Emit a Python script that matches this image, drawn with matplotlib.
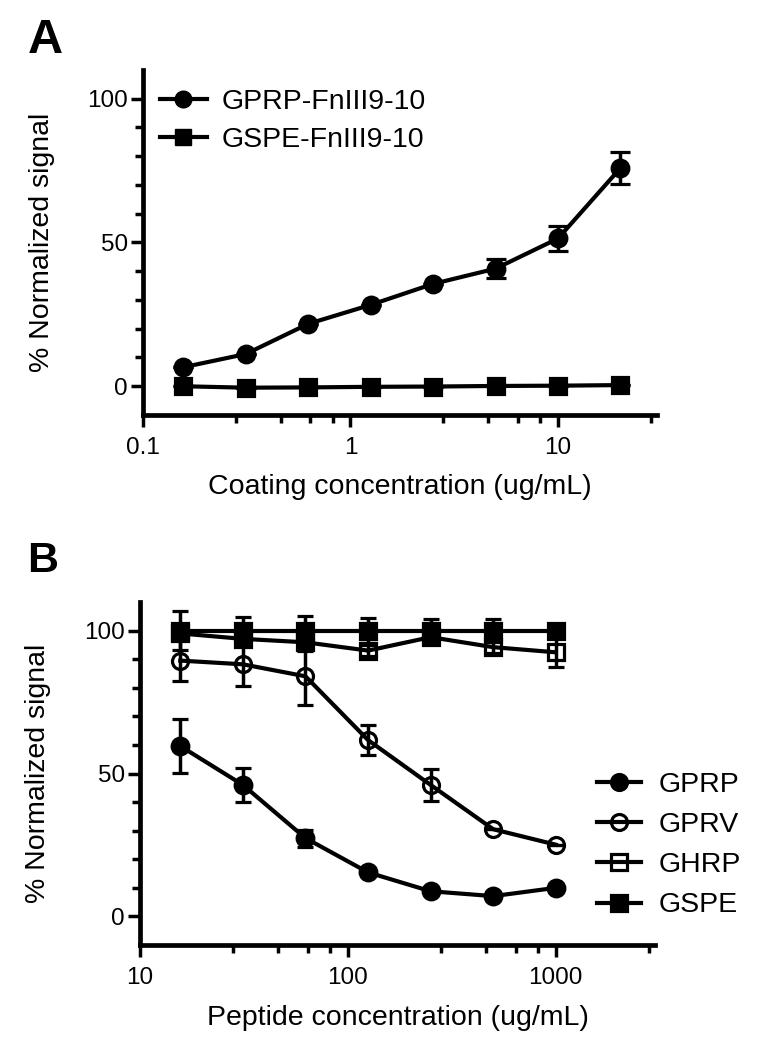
import numpy as np
import matplotlib
matplotlib.use("Agg")
import matplotlib.pyplot as plt
from matplotlib.lines import Line2D
from matplotlib.ticker import FixedLocator, NullFormatter, FuncFormatter

plt.rcParams['font.family'] = ['Liberation Sans', 'DejaVu Sans']

# panel A: coating titration
coating_conc = [0.156, 0.3125, 0.625, 1.25, 2.5, 5, 10, 20]
gprp_fn = [6.6, 11.2, 21.7, 28.3, 35.6, 40.9, 51.4, 75.9]
gprp_fn_err = [0, 0, 0, 0, 0, 3.2, 4.5, 5.6]
gspe_fn = [0.0, -0.5, -0.4, -0.2, -0.1, 0.1, 0.2, 0.4]
gspe_fn_err = [0, 0, 0, 0, 0, 0, 0, 0]
labels_a = ["GPRP-FnIII9-10", "GSPE-FnIII9-10"]

# panel B: peptide competition
peptide_conc = [15.625, 31.25, 62.5, 125, 250, 500, 1000]
gprp = [59.6, 46.0, 27.4, 15.4, 8.8, 7.1, 10.0]
gprp_err = [9.4, 5.8, 3.0, 0, 0, 0, 0]
gprv = [89.5, 88.2, 84.0, 61.7, 46.0, 30.5, 25.1]
gprv_err = [7.2, 7.7, 10.1, 5.2, 5.7, 0, 0]
ghrp = [99.0, 97.1, 95.9, 93.0, 97.7, 94.2, 92.4]
ghrp_err = [2, 2.5, 3, 2, 2, 2, 5.2]
gspe = [100, 100, 100, 100, 100, 100, 100]
gspe_err = [6.7, 4.6, 5.0, 4.3, 4.1, 4.1, 0]
labels_b = ["GPRP", "GPRV", "GHRP", "GSPE"]

FS = 20.5      # axis labels / legend
TFS = 17.5     # tick labels
LW = 3.0


def style_axis(ax, xlim, majors, minors):
    ax.set_xscale('log')
    ax.set_xlim(*xlim)
    ax.set_ylim(-10, 110)
    ax.xaxis.set_major_locator(FixedLocator(majors))
    ax.xaxis.set_major_formatter(FuncFormatter(lambda v, p: '{:g}'.format(v)))
    ax.xaxis.set_minor_locator(FixedLocator(minors))
    ax.xaxis.set_minor_formatter(NullFormatter())
    ax.yaxis.set_major_locator(FixedLocator([0, 50, 100]))
    ax.yaxis.set_minor_locator(FixedLocator([10, 20, 30, 40, 60, 70, 80, 90]))
    for s in ['top', 'right']:
        ax.spines[s].set_visible(False)
    for s in ['left', 'bottom']:
        ax.spines[s].set_linewidth(3.4)
        ax.spines[s].set_capstyle('projecting')
    ax.tick_params(which='major', length=8.5, width=2.5, labelsize=TFS)
    ax.tick_params(which='minor', length=5.5, width=2.5)
    ax.tick_params(axis='x', which='major', pad=7)
    ax.tick_params(axis='y', which='major', pad=2.5)
    ax.set_ylabel("% Normalized signal", fontsize=FS)
    ax.yaxis.set_label_coords(-0.172, 0.5)


def series(ax, x, y, err, marker, filled, ms, capsize, z):
    mfc = 'black' if filled else 'none'
    ax.errorbar(x, y, yerr=err, color='black', lw=LW, marker=marker, ms=ms,
                mfc=mfc, mec='black', mew=2.3, elinewidth=2.5, capsize=capsize,
                capthick=2.6, zorder=z, clip_on=False)


fig = plt.figure(figsize=(7.61, 10.5), dpi=100)

# ---- panel A ----
ax1 = fig.add_axes([143 / 761, 1 - 415 / 1050, 514 / 761, 345 / 1050])
style_axis(ax1, (0.1, 30), [0.1, 1, 10],
           [0.28, 0.46, 0.64, 0.82, 2.8, 4.6, 6.4, 8.2, 28])
series(ax1, coating_conc, gprp_fn, gprp_fn_err, 'o', True, 12, 7, 3)
series(ax1, coating_conc, gspe_fn, gspe_fn_err, 's', True, 12, 7, 4)
ax1.set_xlabel("Coating concentration (ug/mL)", fontsize=FS)
ax1.xaxis.set_label_coords(0.5, -0.172)
h_a = [Line2D([], [], color='black', lw=LW, marker=m, ms=12, mfc='black',
              mec='black') for m in ['o', 's']]
ax1.legend(h_a, labels_a, loc='upper left', bbox_to_anchor=(0.033, 0.945),
           frameon=False, fontsize=FS, borderpad=0, borderaxespad=0,
           handlelength=1.65, handletextpad=0.53, labelspacing=0.41)

# ---- panel B ----
ax2 = fig.add_axes([140 / 761, 1 - 945 / 1050, 515 / 761, 343 / 1050])
style_axis(ax2, (10, 3000), [10, 100, 1000],
           [28, 46, 64, 82, 280, 460, 640, 820, 2800])
series(ax2, peptide_conc, gprp, gprp_err, 'o', True, 12, 6, 3)
series(ax2, peptide_conc, gprv, gprv_err, 'o', False, 11.5, 6, 4)
series(ax2, peptide_conc, ghrp, ghrp_err, 's', False, 11.5, 6, 5)
series(ax2, peptide_conc, gspe, gspe_err, 's', True, 12, 6, 6)
ax2.set_xlabel("Peptide concentration (ug/mL)", fontsize=FS)
ax2.xaxis.set_label_coords(0.5, -0.175)
h_b = []
for m, f in [('o', True), ('o', False), ('s', False), ('s', True)]:
    h_b.append(Line2D([], [], color='black', lw=LW, marker=m, ms=11.5,
                      mfc='black' if f else 'none', mec='black', mew=2.3))
ax2.legend(h_b, labels_b, loc='upper left', bbox_to_anchor=(0.887, 0.505),
           frameon=False, fontsize=FS, borderpad=0, borderaxespad=0,
           handlelength=1.54, handletextpad=0.63, labelspacing=0.5)

fig.text(28 / 761, 1 - 53 / 1050, "A", fontsize=35, fontweight='bold', va='baseline')
fig.text(27 / 761, 1 - 572 / 1050, "B", fontsize=31, fontweight='bold', va='baseline')

fig.savefig("out.png", dpi=100)
